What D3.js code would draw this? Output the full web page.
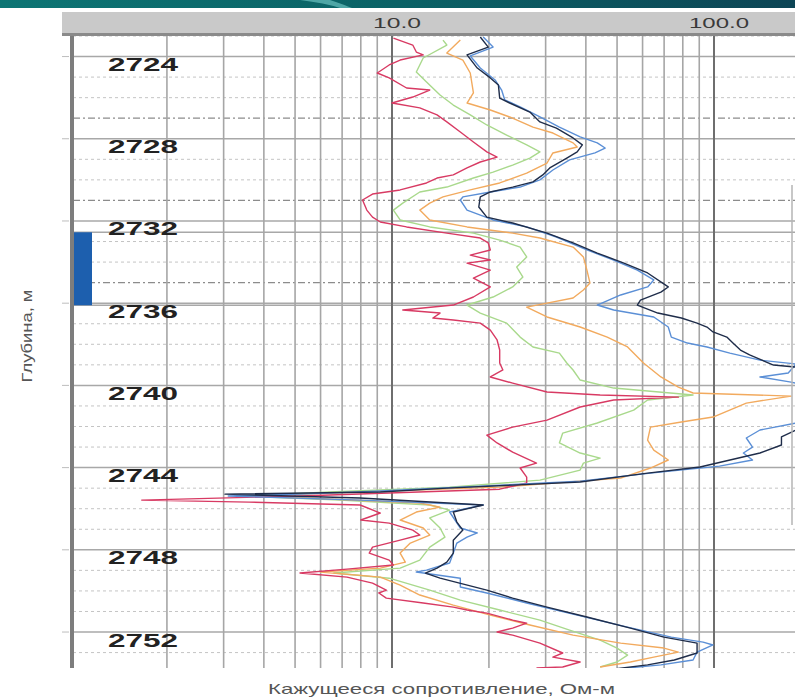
<!DOCTYPE html>
<html><head><meta charset="utf-8">
<script src="https://cdn.jsdelivr.net/npm/d3@7"></script>
<style>body{margin:0;background:#fff}svg{display:block}</style>
</head><body>
<svg id="chart" width="795" height="700"></svg>
<script>
// ---- data ----
const depthLabels = [2724, 2728, 2732, 2736, 2740, 2744, 2748, 2752];
const xTickLabels = [10, 100];
const xMinorGrid = [2,3,4,5,6,7,8,9,20,30,40,50,60,70,80,90,200];
const xMajorGrid = [10, 100];
const markedDepths = [2727, 2731, 2735];
const testInterval = [2732.55, 2736.1];

// [depth (m), apparent resistivity (Ohm*m)]
const redCurve = [
[2723.1,10.1],[2723.44,11.6],[2723.78,11.9],[2723.92,12.5],[2724.17,10.6],[2724.41,9.8],[2724.8,9.0],[2725.04,9.8],[2725.53,11.1],[2725.63,13.1],[2725.97,11.6],[2726.26,10.0],[2726.5,12.2],[2726.84,13.8],[2727.18,14.8],[2727.67,16.3],[2728.16,17.9],[2728.64,19.7],[2728.89,21.2],[2729.13,18.8],[2729.42,17.1],[2729.76,15.5],[2729.91,13.8],[2730.15,12.8],[2730.49,10.6],[2730.69,8.7],[2730.98,8.1],[2731.47,8.35],[2731.81,8.7],[2732.05,9.2],[2732.29,11.1],[2732.59,14.8],[2732.83,18.8],[2733.07,19.9],[2733.41,20.2],[2733.66,17.5],[2733.9,20.2],[2734.05,17.1],[2734.39,20.2],[2734.78,17.9],[2735.21,20.2],[2735.7,17.9],[2736.09,15.5],[2736.33,10.8],[2736.48,14.1],[2736.72,13.4],[2736.82,15.5],[2736.97,18.8],[2737.31,20.2],[2737.79,21.2],[2738.28,21.6],[2738.91,21.6],[2739.25,22.1],[2739.59,20.2],[2739.89,23.7],[2740.32,30.3],[2740.47,44.3],[2740.57,77.5],[2740.71,48.8],[2741.05,38.4],[2741.69,30.3],[2742.03,23.7],[2742.42,19.7],[2742.8,21.2],[2743.25,23.7],[2743.78,28.1],[2744.02,25.0],[2744.46,26.2],[2744.75,26.2],[2745.05,21.6],[2745.38,5.2],[2745.58,1.67],[2745.68,3.6],[2745.82,7.96],[2746.21,9.2],[2746.55,8.0],[2746.7,9.8],[2747.04,11.6],[2747.28,12.2],[2747.53,10.6],[2747.87,8.7],[2748.16,8.5],[2748.5,9.8],[2748.74,10.1],[2748.94,7.25],[2749.13,5.18],[2749.33,7.25],[2749.62,8.7],[2749.96,9.6],[2750.1,9.1],[2750.35,9.6],[2750.59,12.5],[2750.79,15.5],[2750.93,17.1],[2751.08,19.7],[2751.42,23.7],[2751.57,26.2],[2751.81,23.7],[2752.0,21.2],[2752.15,23.7],[2752.54,28.8],[2753.02,33.9],[2753.22,31.6],[2753.46,38.4],[2753.7,33.9],[2753.75,28.1]
];
const orangeCurve = [
[2723.2,16.3],[2723.83,14.8],[2724.17,16.6],[2724.8,17.5],[2725.77,17.9],[2726.26,17.1],[2726.6,20.2],[2726.94,23.2],[2727.43,27.4],[2727.72,31.6],[2728.2,36.5],[2728.4,37.6],[2728.69,31.6],[2729.18,30.3],[2729.67,26.2],[2730.15,21.6],[2730.49,17.5],[2730.83,14.4],[2731.13,13.1],[2731.47,12.2],[2731.95,13.1],[2732.29,17.1],[2732.59,23.7],[2732.83,28.8],[2733.27,36.5],[2733.75,39.3],[2734.39,40.3],[2735.02,41.2],[2735.36,39.3],[2735.75,36.5],[2736.0,30.3],[2736.19,26.2],[2736.67,30.3],[2737.16,38.4],[2737.65,46.6],[2738.13,53.9],[2738.91,60.4],[2739.59,68.4],[2740.08,77.5],[2740.37,86.1],[2740.52,173.5],[2740.86,126],[2741.54,99.3],[2741.78,79.2],[2742.03,63.5],[2742.66,62.2],[2743.15,65.0],[2743.63,72.1],[2744.02,63.5],[2744.51,51.3],[2744.95,21.6],[2745.24,6.4],[2745.38,3.55],[2745.53,6.4],[2745.72,12.2],[2745.92,14.1],[2746.16,11.9],[2746.55,10.6],[2746.94,12.5],[2747.28,13.1],[2747.67,11.4],[2748.16,10.6],[2748.6,11.0],[2748.89,9.2],[2749.08,6.0],[2749.33,9.2],[2749.72,10.6],[2750.2,12.2],[2750.69,15.5],[2751.18,20.2],[2751.66,26.8],[2752.15,36.5],[2752.54,51.3],[2752.78,69.9],[2752.98,77.5],[2753.22,65.0],[2753.46,55.0],[2753.7,44.3]
];
const greenCurve = [
[2723.2,14.4],[2723.44,14.8],[2724.07,12.5],[2724.75,11.9],[2725.24,12.8],[2725.87,14.1],[2726.36,15.5],[2726.84,17.5],[2727.33,19.7],[2727.82,22.7],[2728.3,26.2],[2728.64,28.8],[2728.94,26.8],[2729.28,23.7],[2729.62,20.6],[2729.91,17.9],[2730.35,14.8],[2730.59,12.2],[2731.13,10.8],[2731.47,10.1],[2731.95,10.6],[2732.29,13.1],[2732.59,17.9],[2732.93,21.6],[2733.27,25.0],[2733.75,26.2],[2734.24,24.4],[2734.73,25.5],[2735.21,23.7],[2735.7,20.6],[2736.09,17.1],[2736.48,18.8],[2736.97,22.7],[2737.65,25.0],[2738.13,27.4],[2738.43,33.1],[2738.91,34.9],[2739.25,36.5],[2739.74,38.4],[2740.13,48.8],[2740.47,86.1],[2740.71,62.2],[2741.2,56.3],[2741.83,43.4],[2742.32,33.9],[2742.8,33.1],[2743.29,38.4],[2743.54,44.3],[2743.78,39.3],[2744.12,38.4],[2744.61,28.8],[2744.95,15.1],[2745.19,6.4],[2745.38,3.37],[2745.58,6.9],[2745.82,13.1],[2746.07,15.1],[2746.45,13.1],[2746.94,14.1],[2747.38,14.6],[2747.87,13.1],[2748.5,12.2],[2748.89,10.6],[2749.13,6.6],[2749.38,9.8],[2749.96,13.1],[2750.45,16.3],[2750.93,21.6],[2751.42,28.8],[2751.91,35.6],[2752.39,44.3],[2752.78,50.0],[2753.12,53.9],[2753.46,50.0],[2753.7,44.3]
];
const lightBlueCurve = [
[2723.05,19.2],[2723.54,20.6],[2723.97,17.5],[2724.56,18.8],[2725.14,20.9],[2725.63,21.9],[2726.11,22.4],[2726.45,25.0],[2726.94,28.8],[2727.43,33.1],[2727.91,38.4],[2728.2,43.4],[2728.45,45.9],[2728.69,42.7],[2729.03,35.6],[2729.52,31.6],[2730.0,28.8],[2730.35,25.0],[2730.59,20.2],[2730.83,16.6],[2730.98,16.3],[2731.47,17.1],[2731.95,20.6],[2732.29,26.2],[2732.78,32.4],[2733.41,40.3],[2733.9,48.8],[2734.39,57.8],[2734.87,65.0],[2735.21,62.2],[2735.6,51.3],[2736.09,43.4],[2736.33,48.8],[2736.67,65.0],[2737.16,72.1],[2737.65,73.7],[2737.94,82.7],[2738.13,95.1],[2738.43,112],[2738.77,138.9],[2738.96,180],[2739.4,170],[2739.59,138.9],[2739.84,173.5],[2740.2,215],[2741.2,230],[2741.83,180],[2742.17,138.9],[2742.56,126],[2743.0,131.7],[2743.29,123.4],[2743.63,131.7],[2743.93,104],[2744.27,63.5],[2744.66,38.4],[2744.9,18.8],[2745.14,9.2],[2745.29,5.18],[2745.38,3.1],[2745.58,7.96],[2745.82,19.2],[2746.16,15.1],[2746.94,16.3],[2747.18,18.4],[2747.38,17.1],[2747.67,15.9],[2748.16,15.5],[2748.64,15.1],[2748.99,12.8],[2749.08,11.9],[2749.38,16.3],[2749.81,16.3],[2750.1,19.7],[2750.59,26.2],[2751.18,37.6],[2751.76,53.9],[2752.25,73.7],[2752.49,92.5],[2752.63,99.3],[2752.98,88.6],[2753.36,86.1],[2753.6,68.4],[2753.75,53.9]
];
const navyCurve = [
[2723.05,18.8],[2723.54,19.9],[2723.92,17.1],[2724.56,18.4],[2725.04,20.2],[2725.38,21.4],[2726.02,21.6],[2726.26,23.2],[2726.7,26.8],[2727.18,28.8],[2727.48,32.4],[2727.96,36.5],[2728.3,39.0],[2728.64,37.6],[2728.94,34.9],[2729.42,30.9],[2729.76,29.4],[2730.1,27.4],[2730.35,23.7],[2730.59,20.2],[2730.83,18.8],[2731.32,18.6],[2731.81,19.7],[2732.1,23.7],[2732.59,30.3],[2733.07,36.5],[2733.56,43.4],[2734.05,52.5],[2734.53,62.2],[2735.21,72.1],[2735.46,68.4],[2735.85,59.1],[2736.09,57.8],[2736.48,66.9],[2736.72,79.2],[2736.97,88.6],[2737.16,95.1],[2737.4,99.3],[2737.65,109.6],[2737.94,114.5],[2738.28,120.8],[2738.52,129],[2739.01,153],[2739.11,180],[2739.5,215],[2740.7,263],[2741.93,215],[2742.17,180],[2742.51,162],[2742.9,162],[2743.29,138.9],[2743.97,90.5],[2744.27,62.2],[2744.7,38.4],[2744.85,23.7],[2745.0,14.8],[2745.19,9.2],[2745.29,3.03],[2745.48,7.96],[2745.82,19.2],[2746.16,15.5],[2746.65,15.9],[2747.04,16.6],[2747.53,15.5],[2748.16,15.5],[2748.6,14.8],[2748.89,13.8],[2749.13,12.7],[2749.38,14.1],[2749.96,19.7],[2750.35,23.7],[2750.79,30.3],[2751.27,40.3],[2751.81,55.0],[2752.25,69.9],[2752.54,88.6],[2753.02,88.6],[2753.36,75.3],[2753.6,62.2],[2753.8,48.8]
];

const series = [
  {data: greenCurve, color: "#a9d98c"},
  {data: orangeCurve, color: "#f2aa5e"},
  {data: redCurve, color: "#d83a63"},
  {data: lightBlueCurve, color: "#5b8fd6"},
  {data: navyCurve, color: "#1f2d4a"}
];

// ---- drawing ----
const svg = d3.select("#chart");
const W = 795, H = 700;
const plot = {left: 73, top: 36, right: 795, bottom: 668};

const x = d3.scaleLog().domain([1, 1000]).range([70, 70 + 3 * 322]);
const y = d3.scaleLinear().domain([2723, 2753.75]).range([plot.top, plot.bottom]);

const defs = svg.append("defs");
const g1 = defs.append("linearGradient").attr("id", "banner").attr("x1", 0).attr("x2", 1);
g1.append("stop").attr("offset", "0").attr("stop-color", "#0d7574");
g1.append("stop").attr("offset", "0.5").attr("stop-color", "#0b6266");
g1.append("stop").attr("offset", "1").attr("stop-color", "#0d4555");
defs.append("clipPath").attr("id", "clip").append("rect")
  .attr("x", plot.left).attr("y", plot.top)
  .attr("width", plot.right - plot.left).attr("height", plot.bottom - plot.top);

svg.append("rect").attr("width", W).attr("height", H).attr("fill", "#fff");

// banner
svg.append("rect").attr("x", 0).attr("y", 0).attr("width", W).attr("height", 8).attr("fill", "url(#banner)");
svg.append("path").attr("d", "M300,0 L330,0 Q345,5 352,8 L340,8 Q325,3 300,0 Z").attr("fill", "#5fb7b5").attr("opacity", 0.8);

// header band
svg.append("rect").attr("x", 62).attr("y", 12).attr("width", W - 62).attr("height", 22).attr("fill", "#c9c9c9");
svg.append("rect").attr("x", 62).attr("y", 33).attr("width", W - 62).attr("height", 3).attr("fill", "#8a8a8a");

const grid = svg.append("g").attr("clip-path", "url(#clip)");

// horizontal gridlines
const allDepths = d3.range(2723, 2754);
grid.selectAll("line.hd").data(allDepths.filter(d => d % 4 !== 0 && !markedDepths.includes(d)))
  .join("line").attr("x1", plot.left).attr("x2", plot.right)
  .attr("y1", d => y(d)).attr("y2", d => y(d))
  .attr("stroke", "#c4c4c4").attr("stroke-width", 1).attr("stroke-dasharray", "3,3");
grid.selectAll("line.hm").data(markedDepths)
  .join("line").attr("x1", plot.left).attr("x2", plot.right)
  .attr("y1", d => y(d)).attr("y2", d => y(d))
  .attr("stroke", "#8c8c8c").attr("stroke-width", 1.2).attr("stroke-dasharray", "7,3,2,3");
grid.selectAll("line.hs").data(allDepths.filter(d => d % 4 === 0))
  .join("line").attr("x1", plot.left).attr("x2", plot.right)
  .attr("y1", d => y(d)).attr("y2", d => y(d))
  .attr("stroke", "#a8a8a8").attr("stroke-width", 1.5);
grid.selectAll("line.hi").data(testInterval)
  .join("line").attr("x1", plot.left).attr("x2", plot.right)
  .attr("y1", d => y(d)).attr("y2", d => y(d))
  .attr("stroke", "#a8a8a8").attr("stroke-width", 1.5);

// vertical gridlines
grid.selectAll("line.vmin").data(xMinorGrid)
  .join("line").attr("x1", d => x(d)).attr("x2", d => x(d))
  .attr("y1", plot.top).attr("y2", plot.bottom)
  .attr("stroke", "#a6a6a6").attr("stroke-width", 1.6);
grid.selectAll("line.vmaj").data(xMajorGrid)
  .join("line").attr("x1", d => x(d)).attr("x2", d => x(d))
  .attr("y1", plot.top).attr("y2", plot.bottom)
  .attr("stroke", "#6e6e6e").attr("stroke-width", 2);

// curves
const line = d3.line().x(d => x(d[1])).y(d => y(d[0]));
const curves = svg.append("g").attr("clip-path", "url(#clip)");
curves.selectAll("path").data(series).join("path")
  .attr("d", s => line(s.data))
  .attr("fill", "none").attr("stroke", s => s.color)
  .attr("stroke-width", 1.4).attr("stroke-linejoin", "round");

// far-right partial frame
svg.append("line").attr("x1", 792).attr("x2", 792).attr("y1", 185).attr("y2", 525)
  .attr("stroke", "#b5b5b5").attr("stroke-width", 1.5);

// left axis
svg.append("rect").attr("x", 70).attr("y", plot.top).attr("width", 4).attr("height", plot.bottom - plot.top).attr("fill", "#7d7d7d");
svg.selectAll("line.ltick").data(depthLabels).join("line")
  .attr("x1", 62).attr("x2", 69).attr("y1", d => y(d)).attr("y2", d => y(d))
  .attr("stroke", "#bdbdbd").attr("stroke-width", 1);

// test interval bar
svg.append("rect").attr("x", 74).attr("y", y(testInterval[0]))
  .attr("width", 18).attr("height", y(testInterval[1]) - y(testInterval[0]))
  .attr("fill", "#1d5fae");

// depth labels
svg.selectAll("text.dl").data(depthLabels).join("text")
  .attr("x", 108).attr("y", d => y(d) + 14.5)
  .attr("font-family", "Liberation Sans, Arial, sans-serif").attr("font-weight", "bold")
  .attr("font-size", 18).attr("fill", "#222")
  .attr("textLength", 70).attr("lengthAdjust", "spacingAndGlyphs")
  .text(d => d);

// x tick labels
svg.selectAll("text.xl").data(xTickLabels).join("text")
  .attr("x", d => x(d) + 5).attr("y", 28).attr("text-anchor", "middle")
  .attr("font-family", "Liberation Sans, Arial, sans-serif")
  .attr("font-size", 15).attr("fill", "#3a3a3a")
  .attr("textLength", d => d === 10 ? 48 : 60).attr("lengthAdjust", "spacingAndGlyphs")
  .text(d => d.toFixed(1));

// axis titles
svg.append("text").attr("x", 268).attr("y", 694)
  .attr("font-family", "Liberation Sans, Arial, sans-serif")
  .attr("font-size", 15).attr("fill", "#555")
  .attr("textLength", 347).attr("lengthAdjust", "spacingAndGlyphs")
  .text("Кажущееся сопротивление, Ом-м");
svg.append("text").attr("transform", "translate(32,336) rotate(-90)")
  .attr("text-anchor", "middle")
  .attr("font-family", "Liberation Sans, Arial, sans-serif")
  .attr("font-size", 15).attr("fill", "#555")
  .attr("textLength", 93).attr("lengthAdjust", "spacingAndGlyphs")
  .text("Глубина, м");
</script>
</body></html>
